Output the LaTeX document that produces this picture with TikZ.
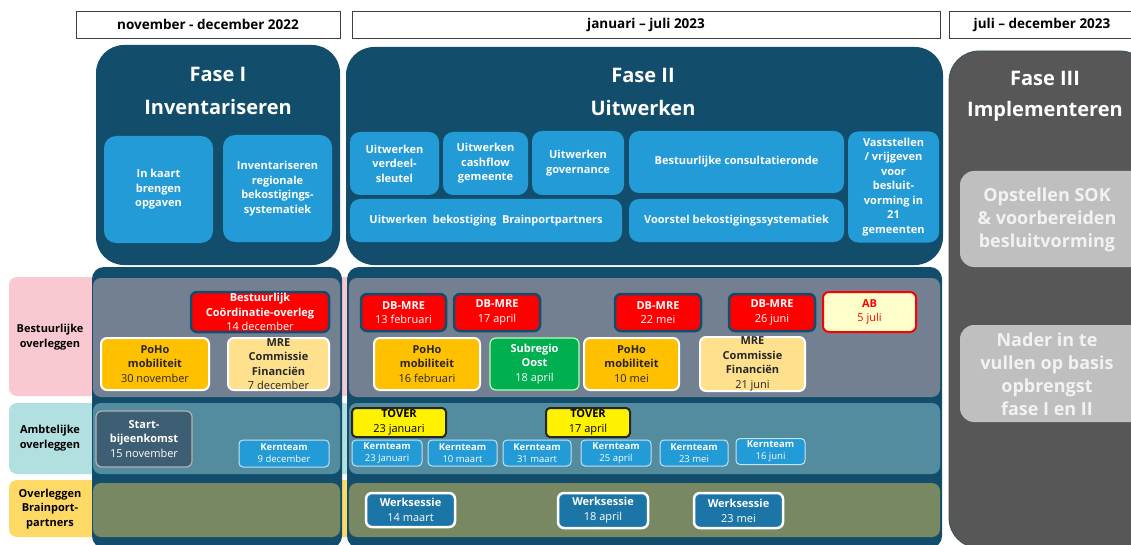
\documentclass[tikz,border=0pt]{standalone}
\usepackage{fontspec}
\setmainfont{Open Sans}
\newcommand\myfs[2]{\fontsize{#1}{#2}\selectfont}
\newcommand\bt[1]{\textbf{#1}}
\definecolor{dblue}{RGB}{18,78,107}
\definecolor{mblue}{RGB}{34,155,214}
\definecolor{fgray}{RGB}{87,87,87}
\definecolor{lgray}{RGB}{191,191,191}
\definecolor{ltext}{RGB}{242,242,242}
\definecolor{band1}{RGB}{115,128,146}
\definecolor{band2}{RGB}{82,140,158}
\definecolor{band3}{RGB}{120,136,98}
\definecolor{lpink}{RGB}{250,200,208}
\definecolor{lcyan}{RGB}{178,224,224}
\definecolor{lyell}{RGB}{255,217,102}
\definecolor{orng}{RGB}{255,192,0}
\definecolor{myell}{RGB}{255,224,140}
\definecolor{grn}{RGB}{0,176,80}
\definecolor{slate}{RGB}{61,94,115}
\definecolor{wblue}{RGB}{27,117,166}
\definecolor{abfill}{RGB}{255,255,204}
\definecolor{hdrline}{RGB}{64,64,64}
\definecolor{kborder}{RGB}{200,225,240}
\definecolor{dtext}{RGB}{38,38,38}
\tikzset{
  sz/.style 2 args={minimum width=#1pt,minimum height=#2pt},
  base/.style={inner sep=0pt,outer sep=0pt,align=center},
  hdr/.style={base,draw=hdrline,line width=0.8pt,fill=white,text=black,font=\myfs{13.5}{16}\bfseries},
  phase/.style={base,fill=dblue,rounded corners=28pt},
  phasethree/.style={base,fill=fgray,draw=dblue!50!fgray,line width=0.8pt,rounded corners=30pt},
  lowerbox/.style={base,fill=dblue,rounded corners=12pt},
  title/.style={base,text=white,font=\myfs{20}{24}\bfseries},
  inbox/.style={base,fill=mblue,rounded corners=12pt,text=white,font=\myfs{11}{14.5}\bfseries},
  lblbox/.style={base,rounded corners=8pt},
  lbltext/.style={base,text=black,font=\myfs{11}{14.5}\bfseries},
  band/.style={base,rounded corners=8pt},
  ev/.style={base,rounded corners=6pt,font=\myfs{11}{14.5}},
  dbm/.style={ev,fill=red,draw=dblue,line width=2.5pt,text=white},
  poho/.style={ev,fill=orng,draw=white,line width=2pt,text=dtext},
  mre/.style={ev,fill=myell,draw=white,line width=2pt,text=dtext},
  subr/.style={ev,fill=grn,draw=green!30!white,line width=1.2pt,text=white},
  abbox/.style={ev,fill=abfill,draw=red,line width=2pt,text=red},
  startbox/.style={ev,fill=slate,draw=gray!60,line width=1.2pt,text=white},
  kern/.style={base,rounded corners=4pt,fill=mblue,draw=kborder,line width=1pt,text=white,font=\myfs{9.5}{12}},
  tover/.style={ev,rounded corners=4pt,fill=yellow,draw=black!85,line width=2pt,text=black},
  werk/.style={ev,fill=wblue,draw=white,line width=2.5pt,text=white,font=\myfs{11}{15}},
  graybox/.style={base,fill=lgray,rounded corners=14pt},
  graytext/.style={base,text=ltext,font=\myfs{18}{23}\bfseries},
}
\begin{document}
\begin{tikzpicture}[x=1pt,y=-1pt]
\useasboundingbox (0,0) rectangle (1131,545);
\fill[white] (0,0) rectangle (1131,545);

% headers
\node[hdr,sz={264}{27}] (h1) at (208,24.5) {november - december 2022};
\node[hdr,sz={588}{27}] (h2) at (646,24.5) {januari -- juli 2023};
\node[hdr,sz={186}{27}] (h3) at (1042,24.5) {juli -- december 2023};

% row label bands (behind)
\node[lblbox,fill=lpink,sz={931}{119}] (lb1) at (474.5,336.5) {};
\node[lblbox,fill=lcyan,sz={931}{71}] (lb2) at (474.5,438.5) {};
\node[lblbox,fill=lyell,sz={931}{57}] (lb3) at (474.5,508.5) {};
\node[lbltext] (lt1) at (50,337) {Bestuurlijke\\overleggen};
\node[lbltext] (lt2) at (50,438) {Ambtelijke\\overleggen};
\node[lbltext] (lt3) at (50,509) {Overleggen\\Brainport-\\partners};

% phase boxes
\node[phase,sz={244}{220}] (f1) at (218,155) {};
\node[phase,sz={597}{218}] (f2) at (644.5,156) {};
\node[phasethree,sz={201}{497}] (f3) at (1049.5,299.5) {};

\node[title] (f1a) at (218,74) {Fase I};
\node[title] (f1b) at (218,107) {Inventariseren};
\node[title] (f2a) at (643,75) {Fase II};
\node[title] (f2b) at (643,108) {Uitwerken};
\node[title] (f3a) at (1045,78) {Fase III};
\node[title] (f3b) at (1045,111) {Implementeren};

% phase I inner
\node[inbox,sz={109}{107}] (ia) at (158.5,189.5) {In kaart\\brengen\\opgaven};
\node[inbox,sz={109}{107}] (ib) at (277.5,188.5) {Inventariseren\\regionale\\bekostigings-\\systematiek};

% phase II inner
\node[inbox,rounded corners=10pt,sz={89}{63}] (pa) at (394.5,163.5) {Uitwerken\\verdeel-\\sleutel};
\node[inbox,rounded corners=10pt,sz={85}{63}] (pb) at (485.5,163.5) {Uitwerken\\cashflow\\gemeente};
\node[inbox,rounded corners=10pt,sz={92}{64}] (pc) at (578,163) {Uitwerken\\governance};
\node[inbox,rounded corners=10pt,sz={215}{62}] (pd) at (736.5,162) {Bestuurlijke consultatieronde};
\node[inbox,rounded corners=10pt,sz={272}{43}] (pe) at (486,220.5) {Uitwerken\ \ bekostiging\ \ Brainportpartners};
\node[inbox,rounded corners=10pt,sz={215}{43}] (pf) at (736.5,220.5) {Voorstel bekostigingssystematiek};
\node[inbox,rounded corners=10pt,sz={91}{111}] (pg) at (893.5,187) {Vaststellen\\/ vrijgeven\\voor\\besluit-\\vorming in\\21\\gemeenten};

% phase III inner
\node[graybox,sz={190}{96}] (s1) at (1055,219) {};
\node[graytext] (s1t) at (1047,220) {Opstellen SOK\\\& voorbereiden\\besluitvorming};
\node[graybox,sz={190}{97}] (s2) at (1055,373.5) {};
\node[graytext] (s2t) at (1047,374) {Nader in te\\vullen op basis\\opbrengst\\fase I en II};

% lower dark boxes
\node[lowerbox,sz={250}{281}] (l1) at (217,407.5) {};
\node[lowerbox,sz={595}{281}] (l2) at (644.5,407.5) {};

% row bands
\node[band,fill=band1,sz={247}{119}] (r1a) at (216.5,337.5) {};
\node[band,fill=band2,sz={247}{71}] (r2a) at (216.5,438.5) {};
\node[band,fill=band3,sz={247}{54}] (r3a) at (216.5,510) {};
\node[band,fill=band1,sz={591}{119}] (r1b) at (644.5,337.5) {};
\node[band,fill=band2,sz={591}{71}] (r2b) at (644.5,438.5) {};
\node[band,fill=band3,sz={591}{54}] (r3b) at (644.5,510) {};

% row 1 events
\node[dbm,sz={138}{40}] (bco) at (260,312) {\bt{Bestuurlijk}\\\bt{Coördinatie-overleg}\\14 december};
\node[poho,sz={108}{52}] (poho1) at (155,364) {\bt{PoHo}\\\bt{mobiliteit}\\30 november};
\node[mre,sz={101}{52}] (mre1) at (278.5,364) {\bt{MRE}\\\bt{Commissie}\\\bt{Financiën}\\7 december};

\node[dbm,sz={85}{37}] (db1) at (403.5,312.5) {\bt{DB-MRE}\\13 februari};
\node[dbm,sz={86}{37}] (db2) at (497,312.5) {\bt{DB-MRE}\\17 april};
\node[dbm,sz={86}{37}] (db3) at (658,312.5) {\bt{DB-MRE}\\22 mei};
\node[dbm,sz={86}{37}] (db4) at (772,312.5) {\bt{DB-MRE}\\26 juni};
\node[abbox,sz={93}{40}] (ab) at (869.5,312) {\bt{AB}\\5 juli};

\node[poho,sz={106}{52}] (poho2) at (427,364) {\bt{PoHo}\\\bt{mobiliteit}\\16 februari};
\node[subr,sz={89}{52}] (sub) at (534.5,364) {\bt{Subregio}\\\bt{Oost}\\18 april};
\node[poho,sz={95}{52}] (poho3) at (631.5,364) {\bt{PoHo}\\\bt{mobiliteit}\\10 mei};
\node[mre,sz={105}{52}] (mre2) at (752.5,364) {\bt{MRE}\\\bt{Commissie}\\\bt{Financiën}\\21 juni};

% row 2 events
\node[startbox,sz={96}{56}] (start) at (144,439) {\bt{Start-}\\\bt{bijeenkomst}\\15 november};
\node[kern,sz={90}{27}] (k0) at (284,453.5) {\bt{Kernteam}\\9 december};
\node[tover,sz={94}{29}] (tov1) at (399,422.5) {\bt{TOVER}\\23 januari};
\node[tover,sz={84}{29}] (tov2) at (588,422.5) {\bt{TOVER}\\17 april};
\node[kern,sz={70}{26}] (k1) at (387,453) {\bt{Kernteam}\\23 Januari};
\node[kern,sz={69}{26}] (k2) at (462.5,453) {\bt{Kernteam}\\10 maart};
\node[kern,sz={68}{26}] (k3) at (537,453) {\bt{Kernteam}\\31 maart};
\node[kern,sz={70}{26}] (k4) at (616,453) {\bt{Kernteam}\\25 april};
\node[kern,sz={68}{26}] (k5) at (694,453) {\bt{Kernteam}\\23 mei};
\node[kern,sz={69}{26}] (k6) at (770.5,451.5) {\bt{Kernteam}\\16 juni};

% row 3 events
\node[werk,sz={89}{34}] (w1) at (410.5,510) {\bt{Werksessie}\\14 maart};
\node[werk,sz={90}{35}] (w2) at (603,510.5) {\bt{Werksessie}\\18 april};
\node[werk,sz={89}{35}] (w3) at (738.5,510.5) {\bt{Werksessie}\\23 mei};
\end{tikzpicture}
\end{document}
